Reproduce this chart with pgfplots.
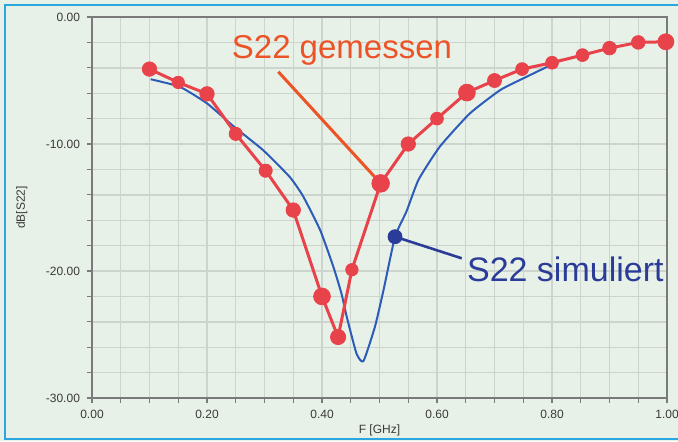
\documentclass[border=0pt]{standalone}
\usepackage{fontspec}
\setmainfont{Liberation Sans}
\usepackage{pgfplots}
\usepackage{pgfplotstable}
\pgfplotsset{compat=1.18}

\definecolor{bgC}{HTML}{E8F1E8}
\definecolor{frameC}{HTML}{2BA6DE}
\definecolor{gridC}{HTML}{CDD3CD}
\definecolor{axisC}{HTML}{7A7A7A}
\definecolor{tickC}{HTML}{3A3A3A}
\definecolor{measC}{HTML}{E8434B}
\definecolor{simC}{HTML}{2C5CB8}
\definecolor{navyC}{HTML}{2A3C98}
\definecolor{noteC}{HTML}{EC5428}

% S22 gemessen: f [GHz], dB, marker radius [pt]
\pgfplotstableread{
f     db     r
0.100 -4.1   3.6
0.150 -5.15  3.1
0.200 -6.05  3.6
0.250 -9.2   3.3
0.302 -12.1  3.3
0.350 -15.2  3.6
0.400 -22.0  4.2
0.428 -25.2  3.8
0.452 -19.9  3.1
0.502 -13.1  4.4
0.550 -10.0  3.6
0.600 -8.0   3.2
0.652 -5.95  4.2
0.700 -5.0   3.5
0.748 -4.1   3.2
0.800 -3.6   3.2
0.853 -3.0   3.2
0.900 -2.45  3.4
0.950 -2.0   3.4
0.998 -1.95  4.0
}\meas

% S22 simuliert
\pgfplotstableread{
f     db
0.102 -4.9
0.153 -5.5
0.200 -6.8
0.246 -8.6
0.298 -10.5
0.344 -12.6
0.367 -14.1
0.397 -16.8
0.420 -19.7
0.434 -21.8
0.443 -23.6
0.460 -26.5
0.472 -27.1
0.492 -24.4
0.507 -21.5
0.527 -17.3
0.547 -15.3
0.568 -12.8
0.605 -10.2
0.657 -7.6
0.710 -5.75
0.756 -4.7
0.797 -3.8
0.817 -3.35
}\simul

\begin{document}
\begin{tikzpicture}
  \path[use as bounding box, clip] (-46pt,-21.5pt) rectangle (293pt,199pt);
  \fill[bgC] (-46pt,-21.5pt) rectangle (293pt,199pt);
  \draw[frameC, line width=1pt] (-43.5pt,-20.5pt) rectangle (300pt,196.5pt);
  \begin{axis}[
    at={(0,0)}, anchor=south west,
    width=287.5pt, height=190.5pt, scale only axis,
    xmin=0, xmax=1, ymin=-30, ymax=0,
    xtick={0,0.2,0.4,0.6,0.8,1},
    ytick={-30,-20,-10,0},
    minor x tick num=3, minor y tick num=4,
    grid=both,
    major grid style={gridC, line width=0.7pt},
    minor grid style={gridC, line width=0.7pt},
    tick align=outside, xtick pos=bottom, ytick pos=left,
    major tick length=2.5pt, minor tick length=2.5pt,
    tick style={axisC, line width=0.6pt},
    axis line style={axisC, line width=0.8pt},
    tick label style={font=\fontsize{6}{7}\selectfont, text=tickC},
    /pgf/number format/assume math mode=true,
    xticklabel style={/pgf/number format/.cd, fixed, fixed zerofill, precision=2},
    yticklabel style={/pgf/number format/.cd, fixed, fixed zerofill, precision=2},
    xlabel={F [GHz]}, ylabel={dB[S22]},
    label style={font=\fontsize{6}{7}\selectfont, text=tickC},
    xlabel style={at={(axis description cs:0.5,-0.084)}, anchor=center},
    ylabel style={at={(axis description cs:-0.122,0.5)}, anchor=center, rotate=0},
    clip=false,
  ]
    \addplot[simC, line width=1pt, smooth, tension=0.3] table[x=f, y=db] {\simul};
    \addplot[measC, line width=1.5pt] table[x=f, y=db] {\meas};
    \addplot[noteC, line width=1.5pt] coordinates {(0.324,-4.31) (0.502,-13.1)};
    \addplot[scatter, only marks, mark=*,
      scatter/use mapped color={draw=measC, fill=measC},
      visualization depends on={\thisrow{r} \as \mr},
      scatter/@pre marker code/.append style={/tikz/mark size=\mr pt}]
      table[x=f, y=db] {\meas};
    \addplot[navyC, line width=1.3pt] coordinates {(0.527,-17.3) (0.643,-19.0)};
    \addplot[navyC, only marks, mark=*, mark size=3.5pt] coordinates {(0.527,-17.3)};
    \node[noteC, anchor=base west, font=\fontsize{16.5}{19}\selectfont]
      at (axis cs:0.231,-3.3) {S22 gemessen};
    \node[navyC, anchor=base west, font=\fontsize{17}{20}\selectfont]
      at (axis cs:0.640,-20.84) {S22 simuliert};
  \end{axis}
\end{tikzpicture}
\end{document}
